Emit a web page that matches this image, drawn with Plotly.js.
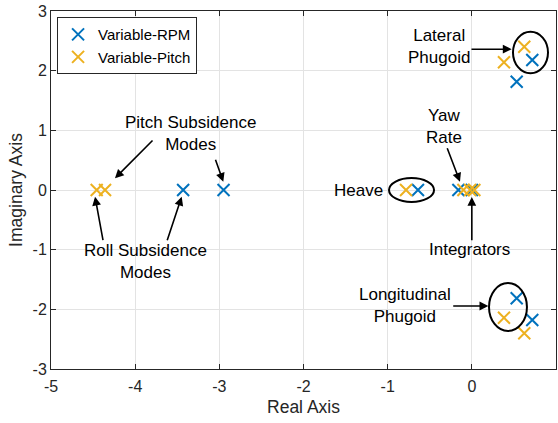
<!DOCTYPE html>
<html>
<head>
<meta charset="utf-8">
<script src="https://cdn.plot.ly/plotly-3.0.1.min.js"></script>
<style>
  html, body { margin: 0; padding: 0; background: #fff; }
  #chart { width: 558px; height: 423px; }
</style>
</head>
<body>
<div id="chart"></div>
<script>
// Pole locations for the two control configurations
const rpmReal  = [-3.43, -2.95, -0.64, -0.16, 0.0, 0.533, 0.533, 0.718, 0.718];
const rpmImag  = [0, 0, 0, 0, 0, 1.815, -1.815, 2.18, -2.18];
const pitchReal = [-4.457, -4.358, -0.782, -0.10, -0.02, 0.03, 0.382, 0.382, 0.623, 0.623];
const pitchImag = [0, 0, 0, 0, 0, 0, 2.14, -2.14, 2.40, -2.40];

const seriesNames = ['Variable-RPM', 'Variable-Pitch'];
const seriesColors = ['#0072BD', '#EDB120'];

const xTicks = [-5, -4, -3, -2, -1, 0, 1];
const yTicks = [-3, -2, -1, 0, 1, 2, 3];

// Mode labels: [text, x, y, xanchor]
const modeLabels = [
  ['Lateral<br>Phugoid', -0.387, 2.40, 'center'],
  ['Yaw<br>Rate', -0.327, 1.07, 'center'],
  ['Integrators', -0.03, -1.0, 'center'],
  ['Longitudinal<br>Phugoid', -0.794, -1.94, 'center'],
  ['Pitch Subsidence<br>Modes', -3.337, 0.947, 'center'],
  ['Roll Subsidence<br>Modes', -3.875, -1.19, 'center'],
  ['Heave', -1.032, 0.0, 'right']
];

// Pointer arrows: [tailX, tailY, headX, headY]
const pointers = [
  [-0.022, 2.36, 0.473, 2.36],
  [-0.299, 0.726, -0.141, 0.139],
  [0.0, -0.866, 0.0, -0.117],
  [-0.239, -1.944, 0.196, -1.944],
  [-3.776, 0.855, -4.24, 0.196],
  [-3.052, 0.531, -2.953, 0.139],
  [-4.379, -0.866, -4.477, -0.112],
  [-3.625, -0.866, -3.447, -0.112]
];

// Ellipses grouping poles: [x0, x1, y0, y1]
const groupRings = [
  [0.489, 0.905, 1.956, 2.653],
  [0.204, 0.655, -2.363, -1.559],
  [-0.984, -0.449, -0.201, 0.201]
];

const font = 'Liberation Sans, Arial, Helvetica, sans-serif';
const ink = '#262626';

function poleTrace(xs, ys, i) {
  return {
    type: 'scatter', mode: 'markers', name: seriesNames[i],
    x: xs, y: ys,
    marker: {
      symbol: 'x-thin-open', size: 12, color: seriesColors[i],
      line: { color: seriesColors[i], width: 2 }
    },
    cliponaxis: false
  };
}

const traces = [
  poleTrace(rpmReal, rpmImag, 0),
  poleTrace(pitchReal, pitchImag, 1)
];

const annotations = [];
modeLabels.forEach(([t, x, y, xa]) => {
  annotations.push({
    text: t, x: x, y: y, xref: 'x', yref: 'y', showarrow: false,
    xanchor: xa, yanchor: 'middle', align: 'center',
    font: { family: font, size: 17, color: '#000' }
  });
});
pointers.forEach(([tx, ty, hx, hy]) => {
  annotations.push({
    text: '', x: hx, y: hy, ax: tx, ay: ty,
    xref: 'x', yref: 'y', axref: 'x', ayref: 'y',
    showarrow: true, arrowhead: 2, arrowsize: 1.1, arrowwidth: 1.6,
    arrowcolor: '#000', standoff: 0, startstandoff: 0
  });
});

const shapes = groupRings.map(([x0, x1, y0, y1]) => ({
  type: 'circle', xref: 'x', yref: 'y', x0: x0, x1: x1, y0: y0, y1: y1,
  line: { color: '#000', width: 2 }
}));

const axisStyle = {
  showline: true, linecolor: ink, linewidth: 1, mirror: 'ticks',
  ticks: 'inside', ticklen: 5, tickwidth: 1, tickcolor: ink,
  showgrid: true, gridcolor: '#e3e3e3', gridwidth: 1,
  zeroline: false,
  tickfont: { family: font, size: 16, color: ink }
};

const layout = {
  width: 558, height: 423,
  margin: { l: 51, r: 2, t: 11, b: 54 },
  paper_bgcolor: '#fff', plot_bgcolor: '#fff',
  showlegend: true,
  legend: {
    x: 0.012, y: 0.983, xanchor: 'left', yanchor: 'top',
    bgcolor: '#fff', bordercolor: ink, borderwidth: 1,
    font: { family: font, size: 15, color: '#000' },
    itemwidth: 30, tracegroupgap: 0
  },
  xaxis: Object.assign({}, axisStyle, {
    range: [-5, 1], tickvals: xTicks, ticktext: xTicks.map(String),
    ticklabelstandoff: 3,
    title: { text: 'Real Axis', font: { family: font, size: 17.5, color: ink }, standoff: 6 }
  }),
  yaxis: Object.assign({}, axisStyle, {
    range: [-3, 3], tickvals: yTicks, ticktext: yTicks.map(String),
    title: { text: 'Imaginary Axis', font: { family: font, size: 17.5, color: ink }, standoff: 5 }
  }),
  annotations: annotations,
  shapes: shapes
};

Plotly.newPlot('chart', traces, layout, { displayModeBar: false, staticPlot: true });
</script>
</body>
</html>
